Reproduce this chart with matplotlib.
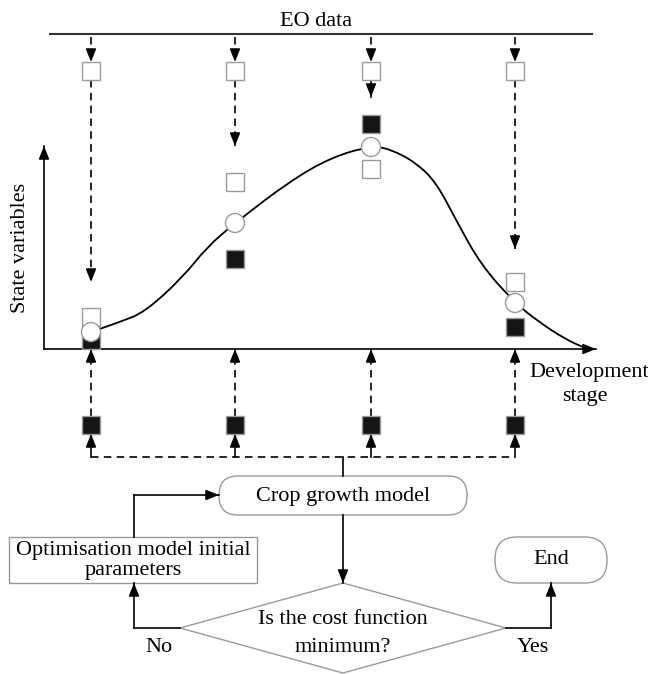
import matplotlib
matplotlib.use("Agg")
import matplotlib.pyplot as plt
from matplotlib.patches import Rectangle, Circle, FancyBboxPatch, Polygon
from matplotlib.path import Path
from matplotlib.patches import PathPatch

plt.rcParams['font.family'] = ['Liberation Serif', 'DejaVu Serif']

# stage positions (px) and values (px, y down)
stage_x = [91, 235, 371, 515]
eo_y = [71, 71, 71, 71]            # EO observations (top white squares)
sim_y = [317, 182, 169, 282]       # simulated (white squares near curve)
model_y = [332, 223, 147, 303]     # model state (circles)
assim_y = [340, 259, 124, 327]     # assimilated (black squares)
param_y = [425, 425, 425, 425]     # parameter squares below axis
drop_to = [282, 146, 97, 249]      # where the EO arrows stop
drop_dashed = [True, True, False, True]

curve_x = [91, 120, 145, 183, 207, 235, 290, 332, 371, 390, 415, 436, 456, 481, 515, 539, 565, 585]
curve_y = [332, 322, 312, 277, 247, 223, 181, 157, 146, 149, 162, 182, 220, 265, 303, 322, 339, 348]

GRAY = '#9a9a9a'
DARK = '#151515'
FS = 16
SQ = 18
DASH = (0, (4.5, 3.2))

fig = plt.figure(figsize=(6.48, 6.74), dpi=100)
ax = fig.add_axes([0, 0, 1, 1])
ax.set_xlim(0, 648)
ax.set_ylim(674, 0)
ax.axis('off')


def head(x0, y0, x1, y1):
    ax.annotate('', xy=(x1, y1), xytext=(x0, y0),
                arrowprops=dict(arrowstyle='-|>,head_length=0.55,head_width=0.22',
                                color='k', lw=1.2, mutation_scale=14,
                                shrinkA=0, shrinkB=0))


def arrow(x0, y0, x1, y1, dashed=False):
    ls = DASH if dashed else '-'
    ax.plot([x0, x1], [y0, y1], color='k', lw=1.2, linestyle=ls)
    dx, dy = x1 - x0, y1 - y0
    n = (dx ** 2 + dy ** 2) ** 0.5
    head(x1 - dx / n * 10, y1 - dy / n * 10, x1, y1)


def square(x, y, black):
    ax.add_patch(Rectangle((x - SQ / 2, y - SQ / 2), SQ, SQ,
                           facecolor=DARK if black else 'white',
                           edgecolor=GRAY, lw=1.0, zorder=3))


# EO data bar
ax.text(316, 22, 'EO data', fontsize=FS, ha='center', va='center')
ax.plot([50, 592], [34, 34], color='#333333', lw=1.5)

# axes
arrow(44, 349, 44, 146)
arrow(44, 349, 596, 349)
ax.text(21, 248, 'State variables', fontsize=FS, rotation=90, ha='center', va='center')
ax.text(589, 372, 'Development', fontsize=FS, ha='center', va='center')
ax.text(585, 397, 'stage', fontsize=FS, ha='center', va='center')

# curve
verts = [(curve_x[0], curve_y[0])]
codes = [Path.MOVETO]
for i in range(1, len(curve_x) - 1):
    mx = (curve_x[i] + curve_x[i + 1]) / 2
    my = (curve_y[i] + curve_y[i + 1]) / 2
    verts += [(curve_x[i], curve_y[i]), (mx, my)]
    codes += [Path.CURVE3, Path.CURVE3]
verts.append((curve_x[-1], curve_y[-1]))
codes.append(Path.LINETO)
ax.add_patch(PathPatch(Path(verts, codes), fill=False, lw=1.3, edgecolor='k', zorder=2))

for i, x in enumerate(stage_x):
    arrow(x, 37, x, eo_y[i] - SQ / 2, dashed=True)
    square(x, eo_y[i], False)
    arrow(x, eo_y[i] + SQ / 2, x, drop_to[i], dashed=drop_dashed[i])
    square(x, sim_y[i], False)
    square(x, assim_y[i], True)
    ax.add_patch(Circle((x, model_y[i]), 9.5, facecolor='white', edgecolor=GRAY, lw=1.0, zorder=4))
    # below axis
    arrow(x, param_y[i] - SQ / 2, x, 349, dashed=True)
    square(x, param_y[i], True)
    arrow(x, 457, x, param_y[i] + SQ / 2)

ax.plot([stage_x[0], stage_x[-1]], [457, 457], color='k', lw=1.2, linestyle=DASH)
ax.plot([343, 343], [457, 476], color='k', lw=1.2)

# flow chart
ax.add_patch(FancyBboxPatch((219, 476), 248, 39, boxstyle='round,pad=0,rounding_size=19',
                            facecolor='white', edgecolor=GRAY, lw=1.0))
ax.text(343, 496, 'Crop growth model', fontsize=FS, ha='center', va='center')
arrow(343, 515, 343, 583)

ax.add_patch(Polygon([(343, 583), (506, 628), (343, 673), (180, 628)], closed=True,
                     facecolor='white', edgecolor=GRAY, lw=1.0))
ax.text(343, 620, 'Is the cost function', fontsize=FS, ha='center', va='center')
ax.text(343, 648, 'minimum?', fontsize=FS, ha='center', va='center')

ax.add_patch(Rectangle((9, 537), 248, 46, facecolor='white', edgecolor=GRAY, lw=1.0))
ax.text(133, 550, 'Optimisation model initial', fontsize=FS, ha='center', va='center')
ax.text(133, 571, 'parameters', fontsize=FS, ha='center', va='center')

ax.plot([180, 134], [628, 628], color='k', lw=1.2)
arrow(134, 628, 134, 583)
ax.plot([134, 134], [537, 495], color='k', lw=1.2)
arrow(134, 495, 219, 495)
ax.text(159, 647, 'No', fontsize=FS, ha='center', va='center')

ax.add_patch(FancyBboxPatch((495, 537), 112, 46, boxstyle='round,pad=0,rounding_size=22',
                            facecolor='white', edgecolor=GRAY, lw=1.0))
ax.text(551, 560, 'End', fontsize=FS, ha='center', va='center')
ax.plot([506, 551], [628, 628], color='k', lw=1.2)
arrow(551, 628, 551, 583)
ax.text(533, 647, 'Yes', fontsize=FS, ha='center', va='center')

fig.savefig('out.png', dpi=100)
